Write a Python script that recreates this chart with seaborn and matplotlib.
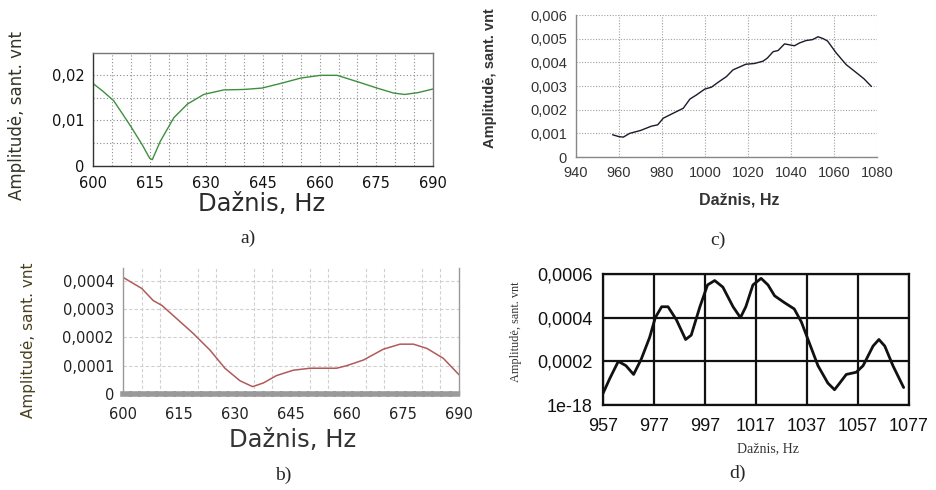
import numpy as np
import pandas as pd
import matplotlib
matplotlib.use("Agg")
import matplotlib.pyplot as plt
import seaborn as sns

sns.set_theme(style="white")
plt.rcParams['font.family'] = ['DejaVu Sans']

# ---------------- data ----------------
a_freq = [600, 602.5, 605.5, 608, 610, 613, 615, 615.7, 617.8, 621.4, 625, 629.3, 634.6, 640, 644.7,
          649.6, 655, 660.2, 664.6, 670, 675.2, 679.6, 682.5, 686, 690]
a_amp = [0.0181, 0.0165, 0.0143, 0.0112, 0.0087, 0.0047, 0.0017, 0.0014, 0.0054, 0.0106, 0.0136, 0.0157,
         0.0167, 0.0168, 0.0171, 0.0181, 0.0193, 0.0199, 0.0199, 0.0185, 0.0171, 0.0160, 0.0157, 0.0161, 0.0169]

b_freq = [600, 605, 608.1, 610.4, 614.4, 618.8, 623.3, 627.3, 631.3, 634.7, 637.6, 641.1, 645.6, 650.1,
          657.2, 659.9, 664.4, 669.7, 674.2, 677.8, 681.4, 685.8, 690]
b_amp = [0.000412, 0.000373, 0.000330, 0.000313, 0.000266, 0.000214, 0.000155, 0.000091, 0.000047, 0.000026,
         0.000039, 0.000065, 0.000084, 0.000091, 0.000091, 0.000100, 0.000120, 0.000158, 0.000176, 0.000176,
         0.000161, 0.000126, 0.000068]

c_freq = [957, 960, 962, 965, 970, 975, 978, 980.6, 985, 989.9, 993, 996, 999.9, 1003, 1006, 1010, 1013,
          1016, 1019, 1023, 1027, 1029, 1031.7, 1034, 1037, 1041.6, 1044, 1047, 1050, 1052.6, 1055, 1057,
          1061, 1065.7, 1071, 1074, 1077.4]
c_amp = [0.00094, 0.00086, 0.00084, 0.00100, 0.00112, 0.00130, 0.00136, 0.00164, 0.00184, 0.00206, 0.00245,
         0.00262, 0.00287, 0.00295, 0.00315, 0.00340, 0.00368, 0.00380, 0.00392, 0.00395, 0.00405, 0.00418,
         0.00445, 0.00450, 0.00478, 0.00470, 0.00482, 0.00492, 0.00496, 0.00508, 0.00500, 0.00490, 0.00440,
         0.00390, 0.00352, 0.00330, 0.00298]

d_freq = [957, 959.6, 963, 966, 969, 972, 975.3, 977.5, 980, 982.5, 985.8, 989.4, 991.6, 995, 998, 1000.8,
          1004, 1008, 1010.9, 1013, 1015.8, 1019, 1021.7, 1024.3, 1028, 1032, 1034.8, 1037.4, 1041.3, 1045.2,
          1047.8, 1049.8, 1052.4, 1056.3, 1059, 1062.9, 1065.2, 1067.5, 1070.7, 1074.9]
d_amp = [0.000053, 0.00012, 0.00020, 0.00018, 0.00014, 0.00021, 0.00031, 0.00040, 0.00045, 0.00045, 0.00039,
         0.00030, 0.00032, 0.00045, 0.00055, 0.00057, 0.00054, 0.00045, 0.00040, 0.00045, 0.00055, 0.00058,
         0.00055, 0.00050, 0.00047, 0.00044, 0.00038, 0.00030, 0.00018, 0.00010, 0.00007, 0.00010, 0.00014,
         0.00015, 0.00018, 0.00027, 0.00030, 0.00027, 0.00018, 0.00008]

a_xticks = [600, 615, 630, 645, 660, 675, 690]
a_yticks = [0, 0.01, 0.02]
a_ylabels = ["0", "0,01", "0,02"]

b_xticks = [600, 615, 630, 645, 660, 675, 690]
b_yticks = [0, 0.0001, 0.0002, 0.0003, 0.0004]
b_ylabels = ["0", "0,0001", "0,0002", "0,0003", "0,0004"]

c_xticks = [940, 960, 980, 1000, 1020, 1040, 1060, 1080]
c_yticks = [0, 0.001, 0.002, 0.003, 0.004, 0.005, 0.006]
c_ylabels = ["0", "0,001", "0,002", "0,003", "0,004", "0,005", "0,006"]

d_xticks = [957, 977, 997, 1017, 1037, 1057, 1077]
d_yticks = [0, 0.0002, 0.0004, 0.0006]
d_ylabels = ["1e-18", "0,0002", "0,0004", "0,0006"]

xlab = "Dažnis, Hz"
ylab = "Amplitudė, sant. vnt"

W, H = 936, 490
fig = plt.figure(figsize=(W / 100, H / 100), dpi=100)


def ax_px(l, t, r, b):
    return fig.add_axes([l / W, 1 - b / H, (r - l) / W, (b - t) / H])


# ---------------- panel a ----------------
ax = ax_px(93, 53, 433, 166)
sns.lineplot(data=pd.DataFrame({"f": a_freq, "a": a_amp}), x="f", y="a", ax=ax,
             color="#3f8f3f", lw=1.0)
ax.set_xlim(600, 690)
ax.set_ylim(0, 0.0248)
ax.set_xticks(np.arange(600, 691, 5), minor=True)
ax.set_yticks([0.005, 0.015], minor=True)
ax.grid(True, which="both", ls=(0, (1, 2)), color="#8a8a8a", lw=0.8)
ax.set_xticks(a_xticks)
ax.set_xticklabels([str(v) for v in a_xticks], fontsize=10.5, color="#111")
ax.set_yticks(a_yticks)
ax.set_yticklabels(a_ylabels, fontsize=10.5, color="#111")
ax.tick_params(which="both", direction="in", length=3, color="#444", width=0.8)
ax.tick_params(axis="x", which="major", pad=7)
ax.tick_params(axis="y", which="major", pad=6)
for s in ax.spines.values():
    s.set_color("#777")
    s.set_linewidth(1)
ax.spines["left"].set_color("#333")
ax.spines["bottom"].set_color("#333")
ax.set_xlabel("")
ax.set_ylabel("")
fig.text(17 / W, 1 - 115 / H, ylab, rotation=90, ha="center", va="center", fontsize=12, color="#333328")
fig.text(262 / W, 1 - 204 / H, xlab, ha="center", va="center", fontsize=17.5, color="#2a2a2a")
fig.text(248 / W, 1 - 238 / H, "a)", ha="center", va="center", fontsize=14, family="Liberation Serif")

# ---------------- panel b ----------------
ax = ax_px(123, 268, 459, 394)
sns.lineplot(data=pd.DataFrame({"f": b_freq, "a": b_amp}), x="f", y="a", ax=ax,
             color="#b05a5a", lw=1.1)
ax.set_xlim(600, 690)
ax.set_ylim(0, 0.000445)
ax.set_xticks(np.arange(600, 691, 5), minor=True)
ax.grid(True, which="major", axis="y", ls=(0, (3, 2)), color="#d0d0d0", lw=0.8)
ax.grid(True, which="minor", axis="x", ls=(0, (3, 2)), color="#d0d0d0", lw=0.8)
ax.set_xticks(b_xticks)
ax.set_xticklabels([str(v) for v in b_xticks], fontsize=10.5, color="#222")
ax.set_yticks(b_yticks)
ax.set_yticklabels(b_ylabels, fontsize=10.5, color="#222")
ax.set_yticks(np.arange(0.00005, 0.00045, 0.0001), minor=True)
ax.tick_params(axis="y", which="both", direction="out", length=3, color="#666", width=1.2)
ax.tick_params(axis="x", which="major", direction="in", length=0, pad=9)
ax.tick_params(axis="x", which="minor", length=0)
for s in ax.spines.values():
    s.set_color("#999")
    s.set_linewidth(1)
ax.spines["top"].set_visible(False)
ax.spines["bottom"].set_linewidth(4)
ax.spines["bottom"].set_linestyle((0, (1, 0.6)))
ax.spines["bottom"].set_color("#9a9a9a")
ax.set_xlabel("")
ax.set_ylabel("")
fig.text(29 / W, 1 - 340 / H, ylab, rotation=90, ha="center", va="center", fontsize=11, color="#4a4020")
fig.text(293 / W, 1 - 440 / H, xlab, ha="center", va="center", fontsize=17.5, color="#333")
fig.text(283 / W, 1 - 475 / H, "b)", ha="center", va="center", fontsize=14, family="Liberation Serif")

# ---------------- panel c ----------------
ax = ax_px(576, 15, 877, 157)
sns.lineplot(data=pd.DataFrame({"f": c_freq, "a": c_amp}), x="f", y="a", ax=ax,
             color="#1a1a2a", lw=1.0)
ax.set_xlim(940, 1080)
ax.set_ylim(0, 0.006)
ax.set_xticks(c_xticks)
ax.set_xticklabels([str(v) for v in c_xticks], fontsize=10.5, color="#333",
                   family="Liberation Sans")
ax.set_yticks(c_yticks)
ax.set_yticklabels(c_ylabels, fontsize=10.5, color="#333", family="Liberation Sans")
ax.set_xticks(np.arange(950, 1080, 20), minor=True)
ax.grid(True, which="major", ls=(0, (1, 1.5)), color="#a0a0a0", lw=0.8)
ax.tick_params(which="both", direction="out", length=3, color="#888", width=0.8)
for s in ["top", "right"]:
    ax.spines[s].set_visible(False)
for s in ["left", "bottom"]:
    ax.spines[s].set_color("#888")
    ax.spines[s].set_linewidth(1)
ax.set_xlabel("")
ax.set_ylabel("")
fig.text(490 / W, 1 - 78 / H, ylab, rotation=90, ha="center", va="center", fontsize=10.5,
         fontweight="bold", color="#333", family="Liberation Sans")
fig.text(739 / W, 1 - 200 / H, xlab, ha="center", va="center", fontsize=11.5, fontweight="bold",
         color="#333", family="Liberation Sans")
fig.text(718 / W, 1 - 240 / H, "c)", ha="center", va="center", fontsize=14, family="Liberation Serif")

# ---------------- panel d ----------------
ax = ax_px(603, 274, 909, 405)
sns.lineplot(data=pd.DataFrame({"f": d_freq, "a": d_amp}), x="f", y="a", ax=ax,
             color="#111", lw=2.0)
ax.set_xlim(957, 1077)
ax.set_ylim(0, 0.0006)
ax.set_xticks(d_xticks)
ax.set_xticklabels([str(v) for v in d_xticks], fontsize=13, color="#111", family="Liberation Sans")
ax.set_yticks(d_yticks)
ax.set_yticklabels(d_ylabels, fontsize=13, color="#111", family="Liberation Sans")
ax.grid(True, which="major", ls="-", color="#111", lw=1.6)
ax.tick_params(which="both", direction="out", length=4, color="#111", width=1.4)
ax.tick_params(axis="x", pad=5)
for s in ax.spines.values():
    s.set_color("#111")
    s.set_linewidth(1.6)
ax.set_xlabel("")
ax.set_ylabel("")
fig.text(516 / W, 1 - 332 / H, ylab, rotation=90, ha="center", va="center", fontsize=8.8,
         color="#333", family="Liberation Serif")
fig.text(768 / W, 1 - 449 / H, xlab, ha="center", va="center", fontsize=10,
         color="#333", family="Liberation Serif")
fig.text(738 / W, 1 - 473 / H, "d)", ha="center", va="center", fontsize=14, family="Liberation Serif")

fig.savefig("out.png", dpi=100)
